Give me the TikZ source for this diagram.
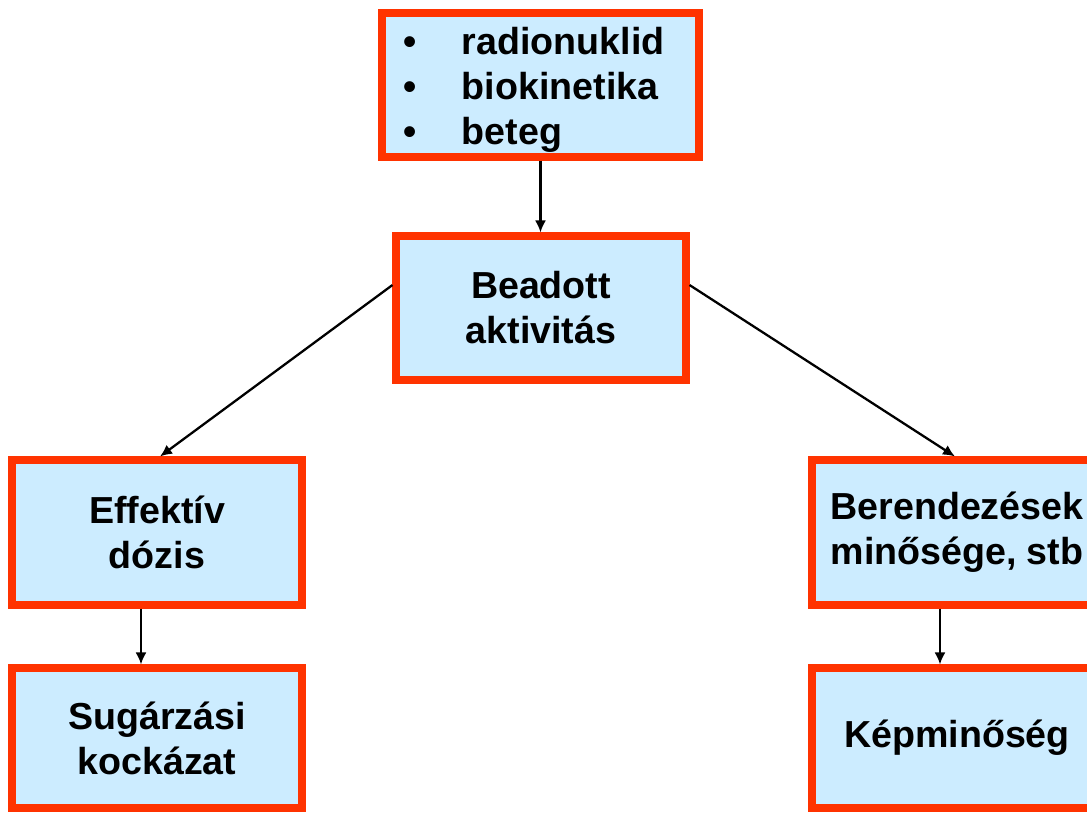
\documentclass[tikz,border=0pt]{standalone}
\usepackage{fontspec}
\setmainfont{Liberation Sans}
\usetikzlibrary{arrows.meta}

\definecolor{boxfill}{RGB}{204,236,255}
\definecolor{boxline}{RGB}{255,51,0}

\begin{document}
\begin{tikzpicture}[
		box/.style={draw=boxline, line width=2pt, fill=boxfill, minimum width=2.9cm,
			minimum height=1.45cm, align=center, inner sep=0pt,
			font=\fontsize{10.7}{12.8}\selectfont\bfseries},
		arr/.style={line width=0.65pt, -{Latex[length=1.2mm,width=1.1mm]}}
	]
		\useasboundingbox (0,0) rectangle (10.87,-8.13);
        % boxes
		\node[box, minimum width=3.17cm, minimum height=1.44cm, text width=2.73cm,
			align=left, inner xsep=0.22cm] (bem) at (5.405,-0.85)
			{\rule{0pt}{0.37cm}\makebox[0.58cm][l]{\textbullet}radionuklid\\
			 \makebox[0.58cm][l]{\textbullet}biokinetika\\
			 \makebox[0.58cm][l]{\textbullet}beteg};
		\node[box, minimum height=1.44cm] (akt) at (5.41,-3.08) {Beadott\\aktivitás};
		\node[box] (doz) at (1.57,-5.325) {Effektív\\dózis};
		\node[box] (ber) at (9.57,-5.325) {Berendezések\\minősége, stb};
		\node[box, minimum height=1.40cm] (koc) at (1.57,-7.38) {Sugárzási\\kockázat};
		\node[box, minimum height=1.40cm] (kep) at (9.57,-7.38) {Képminőség};
        % arrows
		\draw[arr] (bem.south) -- (bem.south |- akt.north);
		\draw[arr] ([yshift=0.23cm]akt.west) -- ([xshift=0.03cm]doz.north);
		\draw[arr] ([yshift=0.23cm]akt.east) -- ([xshift=-0.02cm]ber.north);
		\draw[arr] ([xshift=-0.16cm]doz.south) -- ([xshift=-0.16cm]koc.north);
		\draw[arr] ([xshift=-0.17cm]ber.south) -- ([xshift=-0.17cm]kep.north);
	\end{tikzpicture}
\end{document}
